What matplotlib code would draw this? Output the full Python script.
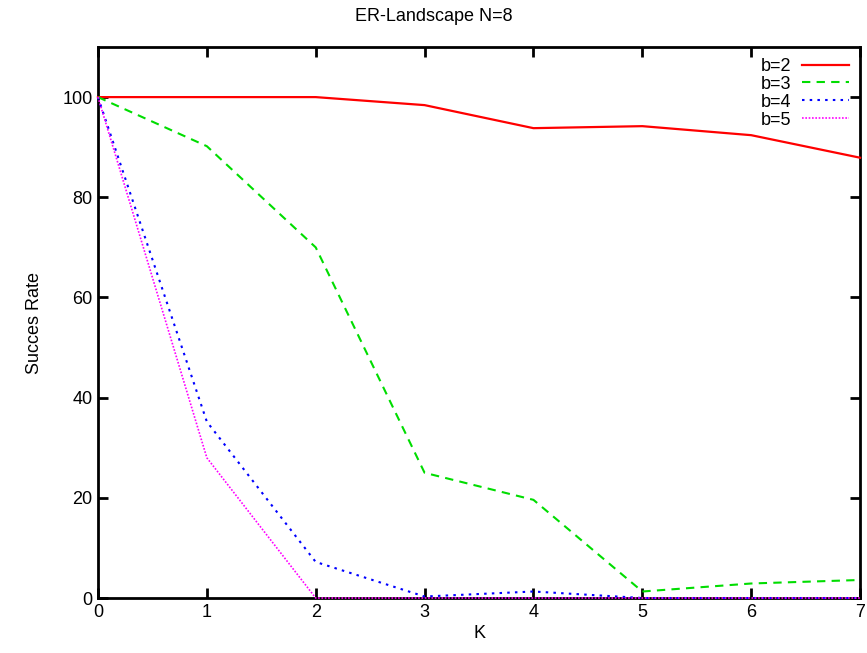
import numpy as np
import matplotlib.pyplot as plt

plt.rcParams['font.family'] = ['Liberation Sans', 'DejaVu Sans']

K = [0, 1, 2, 3, 4, 5, 6, 7]
b2 = [100, 100, 100, 98.4, 93.8, 94.2, 92.4, 87.9]
b3 = [100, 90.2, 70, 25, 19.6, 1.3, 2.9, 3.6]
b4 = [100, 35.2, 7.2, 0.3, 1.3, 0, 0, 0]
b5 = [100, 28, 0, 0, 0, 0, 0, 0]

fig = plt.figure(figsize=(8.67, 6.53), dpi=100)
ax = fig.add_axes([0.113, 0.0842, 0.879, 0.8438])

ax.plot(K, b2, color='#ff0000', lw=1.6, label='b=2', clip_on=False, zorder=5)
ax.plot(K, b3, color='#00dd00', lw=1.5, ls=(0, (4, 3)), label='b=3', clip_on=False, zorder=5)
ax.plot(K, b4, color='#0000ff', lw=1.5, ls=(0, (1.2, 2.5)), label='b=4', clip_on=False, zorder=6)
ax.plot(K, b5, color='#ff00ff', lw=1.2, ls=(0, (1, 1)), label='b=5', clip_on=False, zorder=7)

ax.set_xlim(0, 7)
ax.set_ylim(0, 110)
ax.set_xticks(range(8))
ax.set_yticks(range(0, 101, 20))
ax.tick_params(direction='in', length=7, width=2, top=True, right=True, labelsize=13, pad=4)
for s in ax.spines.values():
    s.set_linewidth(2)

ax.set_xlabel('K', fontsize=13, labelpad=3)
ax.set_ylabel('Succes Rate', fontsize=13, labelpad=14)
fig.text(0.5, 0.975, 'ER-Landscape N=8', ha='center', va='center', fontsize=13)

leg = ax.legend(loc='upper right', frameon=False, markerfirst=False, fontsize=13,
                handlelength=2.6, labelspacing=0.05, borderaxespad=0.2, handletextpad=0.6)

fig.savefig('out.png', dpi=100)
